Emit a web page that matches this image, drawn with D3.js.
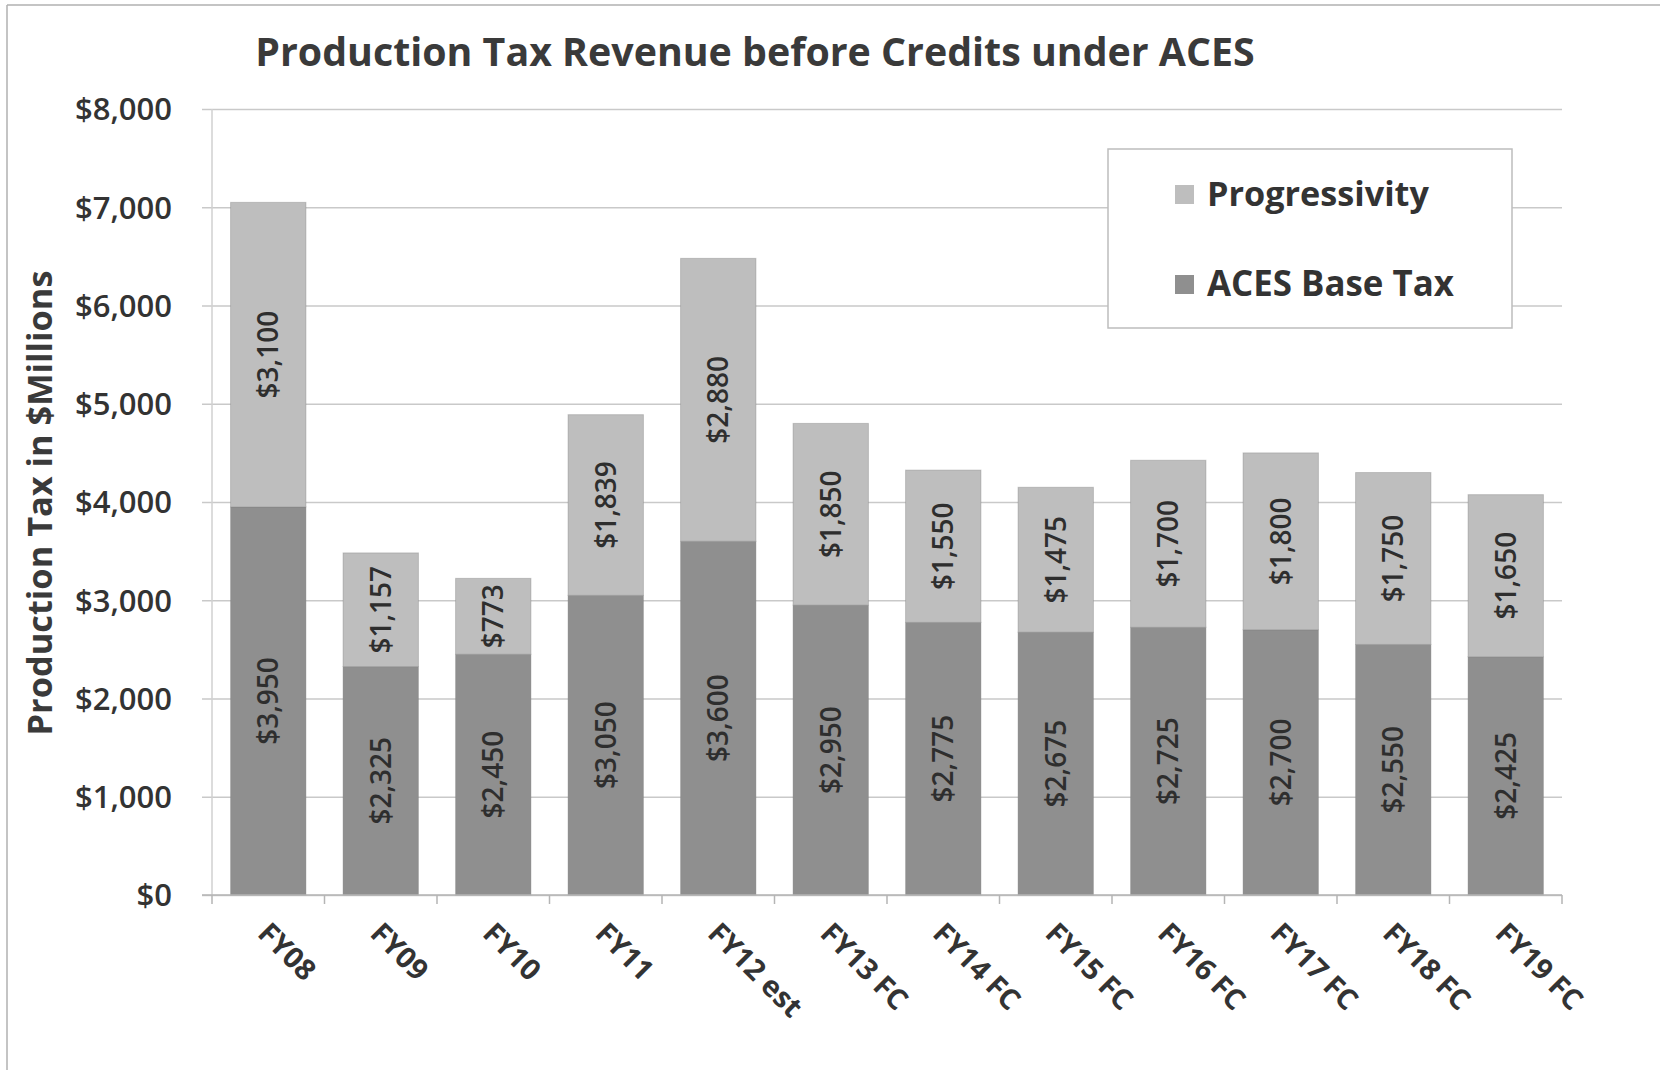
<!DOCTYPE html>
<html>
<head>
<meta charset="utf-8">
<script src="https://cdn.jsdelivr.net/npm/d3@7"></script>
<style>
  html, body { margin: 0; padding: 0; background: #fff; }
  svg { display: block; }
  text { font-family: "Open Sans", "Noto Sans", sans-serif; fill: #333; }
</style>
</head>
<body>
<svg id="chart" width="1660" height="1070"></svg>
<script>
// Fiscal years and the two stacked components (in $ millions)
const categories = ["FY08", "FY09", "FY10", "FY11", "FY12 est", "FY13 FC", "FY14 FC",
                    "FY15 FC", "FY16 FC", "FY17 FC", "FY18 FC", "FY19 FC"];
const baseTax = [3950, 2325, 2450, 3050, 3600, 2950, 2775, 2675, 2725, 2700, 2550, 2425];
const progressivity = [3100, 1157, 773, 1839, 2880, 1850, 1550, 1475, 1700, 1800, 1750, 1650];
const seriesNames = ["ACES Base Tax", "Progressivity"];
const yTicks = [0, 1000, 2000, 3000, 4000, 5000, 6000, 7000, 8000];

const colors = { "ACES Base Tax": "#8f8f8f", "Progressivity": "#bebebe" };

const svg = d3.select("#chart");
const W = 1660, H = 1070;
const plot = { left: 212, right: 1562, top: 109, bottom: 895 };

// scale text so that it spans a given width
function fitWidth(sel, target) {
  sel.each(function () {
    const len = this.getComputedTextLength();
    const fs = parseFloat(d3.select(this).style("font-size"));
    d3.select(this).style("font-size", (fs * target / len) + "px");
  });
}

// outer frame
svg.append("line").attr("x1", 7).attr("x2", 7).attr("y1", 5).attr("y2", H)
  .attr("stroke", "#b0b0b0").attr("stroke-width", 1.5);
svg.append("line").attr("x1", 7).attr("x2", W).attr("y1", 5).attr("y2", 5)
  .attr("stroke", "#b0b0b0").attr("stroke-width", 1.5);

const x = d3.scaleBand().domain(categories).range([plot.left, plot.right])
  .paddingInner(0.33).paddingOuter(0.165);
const y = d3.scaleLinear().domain([0, 8000]).range([plot.bottom, plot.top]);

// gridlines with small outward ticks
const yAxis = d3.axisLeft(y).tickValues(yTicks)
  .tickSize(-(plot.right - plot.left) - 10)
  .tickFormat(d => "$" + d3.format(",")(d));
const gy = svg.append("g").attr("transform", `translate(${plot.left - 10},0)`).call(yAxis);
gy.select(".domain").remove();
gy.selectAll(".tick line").attr("stroke", "#c9c9c9").attr("stroke-width", 1.5);
gy.selectAll(".tick text").attr("x", -30).attr("dy", "0.35em")
  .style("font-size", "31px").style("font-weight", "600").style("fill", "#333");

// left axis line
svg.append("line").attr("x1", plot.left).attr("x2", plot.left)
  .attr("y1", plot.top).attr("y2", plot.bottom).attr("stroke", "#d0d0d0").attr("stroke-width", 1.5);

// stacked bars
const rows = categories.map((c, i) => ({
  cat: c, "ACES Base Tax": baseTax[i], "Progressivity": progressivity[i]
}));
const stacked = d3.stack().keys(seriesNames)(rows);

const layers = svg.append("g").selectAll("g").data(stacked).join("g")
  .attr("fill", d => colors[d.key]);
layers.selectAll("rect").data(d => d).join("rect")
  .attr("x", d => x(d.data.cat))
  .attr("width", x.bandwidth())
  .attr("y", d => y(d[1]))
  .attr("height", d => y(d[0]) - y(d[1]))
  .attr("stroke", d3.color("#7a7a7a").copy({ opacity: 0.35 }))
  .attr("stroke-width", 1);

// value labels, rotated, centred within each segment
const labels = svg.append("g");
stacked.forEach(layer => {
  layer.forEach(d => {
    const cx = x(d.data.cat) + x.bandwidth() / 2;
    const cy = (y(d[0]) + y(d[1])) / 2;
    labels.append("text")
      .attr("transform", `translate(${cx},${cy}) rotate(-90)`)
      .attr("text-anchor", "middle").attr("dy", "0.35em")
      .style("font-size", "28px").style("font-weight", "600").style("fill", "#2e2e2e")
      .text("$" + d3.format(",")(d[1] - d[0]));
  });
});

// bottom axis with category boundary ticks
svg.append("line").attr("x1", plot.left - 10).attr("x2", plot.right)
  .attr("y1", plot.bottom).attr("y2", plot.bottom).attr("stroke", "#b5b5b5").attr("stroke-width", 1.5);
d3.range(categories.length + 1).forEach(i => {
  const tx = plot.left + i * (plot.right - plot.left) / categories.length;
  svg.append("line").attr("x1", tx).attr("x2", tx)
    .attr("y1", plot.bottom).attr("y2", plot.bottom + 9)
    .attr("stroke", "#b5b5b5").attr("stroke-width", 1.5);
});

svg.append("g").selectAll("text").data(categories).join("text")
  .attr("transform", d => `translate(${x(d) + x.bandwidth() / 2 - 12},${plot.bottom + 40}) rotate(45)`)
  .attr("text-anchor", "start")
  .style("font-size", "29px").style("font-weight", "700").style("fill", "#333")
  .text(d => d);

// title
const title = svg.append("text").attr("x", 755).attr("y", 66).attr("text-anchor", "middle")
  .style("font-size", "32px").style("font-weight", "700").style("fill", "#3a3a3a")
  .text("Production Tax Revenue before Credits under ACES");
fitWidth(title, 1000);

// y-axis title
const ytitle = svg.append("text")
  .attr("transform", "translate(52,503) rotate(-90)")
  .attr("text-anchor", "middle")
  .style("font-size", "28px").style("font-weight", "700").style("fill", "#3a3a3a")
  .text("Production Tax in $Millions");
fitWidth(ytitle, 465);

// legend
const lg = svg.append("g");
lg.append("rect").attr("x", 1108).attr("y", 149).attr("width", 404).attr("height", 179)
  .attr("fill", "#fff").attr("stroke", "#bdbdbd").attr("stroke-width", 1.5);
const legendItems = ["Progressivity", "ACES Base Tax"];
legendItems.forEach((k, i) => {
  const cy = 194 + i * 90;
  lg.append("rect").attr("x", 1175).attr("y", cy - 9).attr("width", 19).attr("height", 19)
    .attr("fill", colors[k]);
  const t = lg.append("text").attr("x", 1207).attr("y", cy).attr("dy", "0.35em")
    .style("font-size", "30px").style("font-weight", "700").style("fill", "#333").text(k);
  fitWidth(t, i === 0 ? 222 : 247);
});
</script>
</body>
</html>
